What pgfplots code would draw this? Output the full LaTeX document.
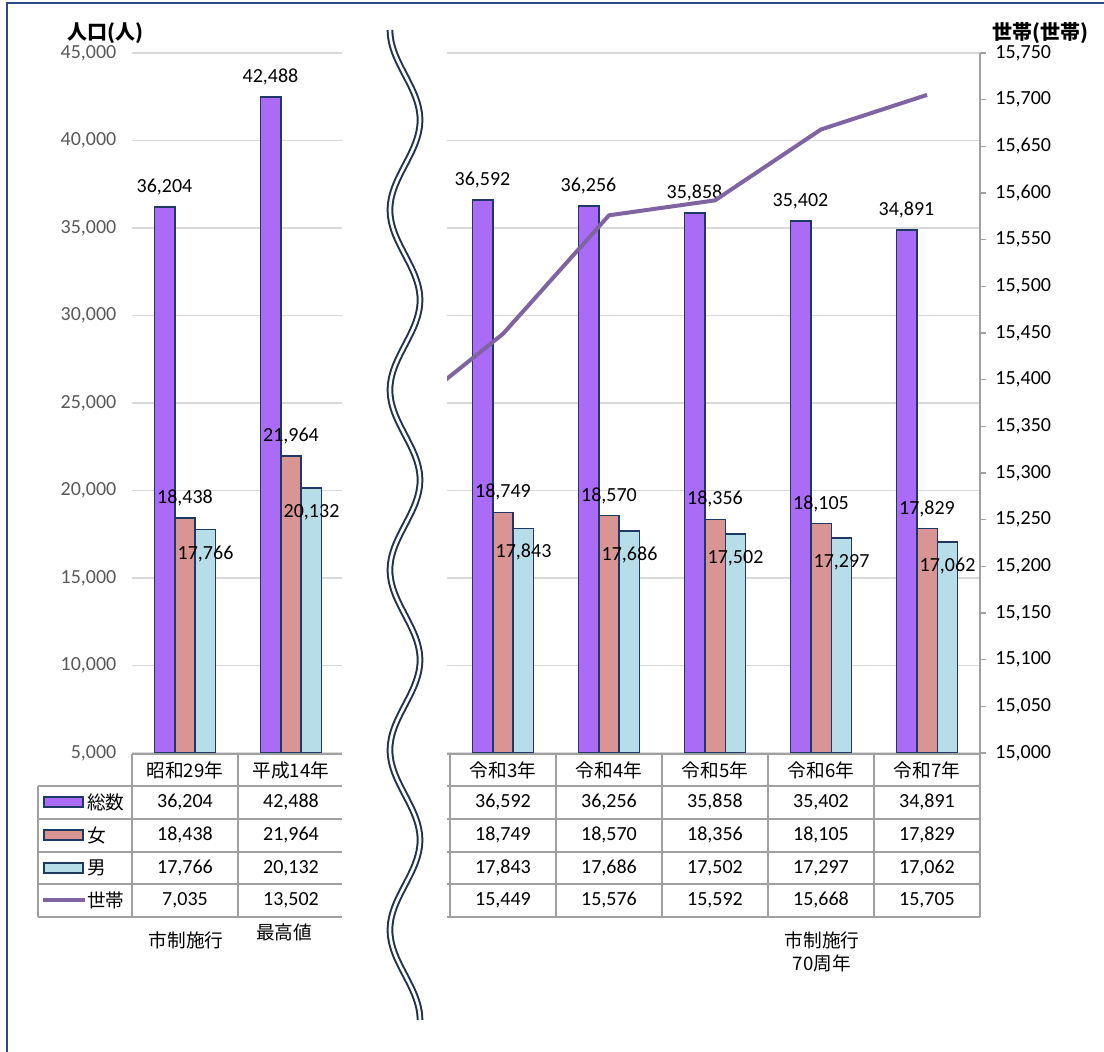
\documentclass[border=0pt]{standalone}
\usepackage{fontspec}
\setmainfont{Carlito}
\newfontfamily\jp{Noto Sans CJK JP}
\usepackage{pgfplots}
\usepackage{pgfplotstable}
\pgfplotsset{compat=1.18}
\pgfkeys{/pgf/number format/.cd,1000 sep={,},assume math mode=true}

\definecolor{cTot}{HTML}{AA6CF7}
\definecolor{cFem}{HTML}{D99594}
\definecolor{cMal}{HTML}{B7DEE8}
\definecolor{cEdge}{HTML}{1F3864}
\definecolor{cLine}{HTML}{8064A2}
\definecolor{cGrid}{HTML}{D9D9D9}
\definecolor{cTab}{HTML}{A0A0A0}
\definecolor{cAxis}{HTML}{A0A0A0}
\definecolor{cTick}{HTML}{595959}
\definecolor{cFrame}{HTML}{2B4A86}
\definecolor{cWave}{HTML}{1F3350}

\newcommand\lbl{\fontsize{15}{17}\selectfont}
\newcommand\jlbl{\fontsize{14}{16}\selectfont}

% x = category index; row 2 is the hidden (cut) category
\pgfplotstableread{
x total female male hh
0 36204 18438 17766 7035
1 42488 21964 20132 13502
2 nan   nan   nan   15358
3 36592 18749 17843 15449
4 36256 18570 17686 15576
5 35858 18356 17502 15592
6 35402 18105 17297 15668
7 34891 17829 17062 15705
}\data

\begin{document}
\begin{tikzpicture}[x=0.75pt,y=0.75pt]
\useasboundingbox (0,0) rectangle (1104,-1052);
\draw[cFrame,line width=1.5pt] (6.5,-1060) -- (6.5,-3.5) -- (1110,-3.5);
\coordinate (O) at (132,-753);

\pgfplotsset{
  base/.style={
    at={(O)}, anchor=south west, scale only axis,
    width=636pt, height=525pt, xmin=-0.5, xmax=7.5,
    hide x axis, scaled y ticks=false,
  },
  bars/.style={ybar, bar width=0.193, draw=cEdge, line width=1.1pt,
    nodes near coords,
    every node near coord/.append style={font=\lbl, text=black}},
}

\begin{axis}[base,
  ymin=5000, ymax=45000,
  axis y line*=left, y axis line style={draw=none},
  ytick={5000,10000,...,45000}, major tick length=0pt,
  ymajorgrids, grid style={cGrid,line width=1pt},
  yticklabel style={font=\lbl, text=cTick, xshift=-8.25pt},
]
\addplot[bars, bar shift=-0.193, fill=cTot,
  every node near coord/.append style={xshift=-15.4pt, yshift=5pt}]
  table[x=x,y=total]{\data};
\addplot[bars, bar shift=0, fill=cFem,
  every node near coord/.append style={yshift=5pt}]
  table[x=x,y=female]{\data};
\addplot[bars, bar shift=0.193, fill=cMal,
  every node near coord/.append style={xshift=15.4pt, yshift=-28pt}]
  table[x=x,y=male]{\data};
\end{axis}

\begin{axis}[base,
  ymin=15000, ymax=15750,
  axis y line*=right, y axis line style={cAxis,line width=1.1pt},
  ytick={15000,15050,...,15750}, ytick style={cAxis,line width=1.1pt},
  tick align=outside, major tick length=4.5pt,
  yticklabel style={font=\lbl, text=black, xshift=3.5pt},
]
\addplot[cLine, line width=3pt, line join=round] table[x=x,y=hh]{\data};
\end{axis}

% data table under the plot
\begin{scope}[cTab, line width=1.4pt]
\draw (132,-754) -- (980,-754);
\foreach \Y in {786,819,852,884,917} \draw (38,-\Y) -- (980,-\Y);
\draw (38,-786) -- (38,-917);
\foreach \X in {132,238,344,450,556,662,768,874,980} \draw (\X,-754) -- (\X,-917);
\end{scope}

\foreach \i/\lab in {0/昭和29年,1/平成14年,3/令和3年,4/令和4年,5/令和5年,6/令和6年,7/令和7年}
  \node[font=\jp\jlbl] at ({185+106*\i},-770) {\lab};

\foreach \col/\Y in {total/802,female/835,male/868,hh/900}{
  \foreach \i in {0,1,3,4,5,6,7}{
    \pgfplotstablegetelem{\i}{\col}\of\data
    \node[font=\lbl] at ({185+106*\i},-\Y) {\pgfmathprintnumber{\pgfplotsretval}};
  }
}

% legend keys in the first column
\filldraw[fill=cTot,draw=cEdge,line width=1.1pt] (44,-797) rectangle (83,-807);
\filldraw[fill=cFem,draw=cEdge,line width=1.1pt] (44,-830) rectangle (83,-840);
\filldraw[fill=cMal,draw=cEdge,line width=1.1pt] (44,-863) rectangle (83,-873);
\draw[cLine,line width=3pt] (43,-900) -- (85,-900);
\foreach \Y/\t in {802/総数,835/女,868/男,900/世帯}
  \node[font=\jp\jlbl, anchor=west, inner sep=0pt] at (87,-\Y) {\t};

% axis titles
\node[font=\jp\bfseries\fontsize{15}{16}\selectfont, anchor=west, inner sep=0pt] at (67,-33) {人口(人)};
\node[font=\jp\bfseries\fontsize{15}{16}\selectfont, anchor=west, inner sep=0pt] at (992,-33) {世帯(世帯)};

% notes below the table
\node[font=\jp\jlbl] at (186,-940) {市制施行};
\node[font=\jp\jlbl] at (284,-932) {最高値};
\node[font=\jp\jlbl, align=center, inner sep=0pt] at (822,-952) {市制施行\\[1pt]70周年};

% axis break
\fill[white] (341.5,-28) rectangle (447,-1025);
\draw[cWave,line width=5pt] plot[domain=30:1020,samples=160,smooth] ({405-15*cos(2*(\x-30))},{-\x});
\draw[white,line width=2pt] plot[domain=30:1020,samples=160,smooth] ({405-15*cos(2*(\x-30))},{-\x});
\end{tikzpicture}
\end{document}
